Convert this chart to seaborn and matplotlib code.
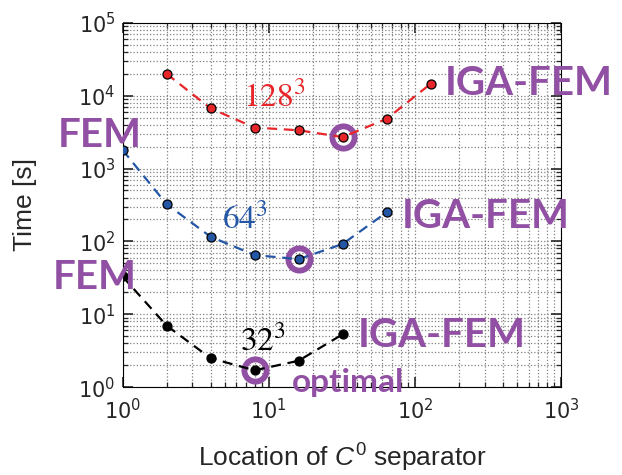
import numpy as np
import pandas as pd
import matplotlib
matplotlib.use("Agg")
import matplotlib.pyplot as plt
import seaborn as sns

# --- data ---
SEPARATOR = [1, 2, 4, 8, 16, 32, 64, 128]
TIME_128 = [np.nan, 20000, 6700, 3650, 3350, 2700, 4800, 14500]
TIME_64 = [1800, 325, 116, 65, 57, 92, 250, np.nan]
TIME_32 = [33, 7.0, 2.5, 1.7, 2.3, 5.3, np.nan, np.nan]

SERIES_NAMES = ["128^3", "64^3", "32^3"]
SERIES_COLORS = ["#e8262a", "#2456a6", "black"]
SERIES_LABEL_POS = [(6.67, 7020), (4.79, 153), (6.36, 3.22)]

OPTIMAL_X = [32, 16, 8]
OPTIMAL_Y = [2700, 57, 1.7]

PURPLE = "#9150a3"

sns.set_style("ticks", rc={
    "xtick.direction": "in", "ytick.direction": "in",
    "xtick.top": True, "ytick.right": True,
    "axes.edgecolor": "black", "axes.linewidth": 1.6,
})
plt.rcParams["font.family"] = ["Liberation Sans", "DejaVu Sans"]
plt.rcParams["mathtext.rm"] = "Liberation Sans"
plt.rcParams["mathtext.it"] = "Liberation Sans:italic"

rows = []
for name, vals in zip(SERIES_NAMES, [TIME_128, TIME_64, TIME_32]):
    for x, y in zip(SEPARATOR, vals):
        if not np.isnan(y):
            rows.append({"series": name, "separator": x, "time": y})
df = pd.DataFrame(rows)

fig = plt.figure(figsize=(6.22, 4.75), dpi=100)
ax = fig.add_axes([0.197, 0.185, 0.705, 0.767])

# optimal rings
opt = pd.DataFrame({"separator": OPTIMAL_X, "time": OPTIMAL_Y})
sns.lineplot(data=opt, x="separator", y="time", ax=ax, linestyle="", marker="o",
             markersize=16, markerfacecolor="none", markeredgecolor=PURPLE,
             markeredgewidth=4.2, zorder=2)

for name, color in zip(SERIES_NAMES, SERIES_COLORS):
    sub = df[df["series"] == name]
    sns.lineplot(data=sub, x="separator", y="time", ax=ax, color=color,
                 linestyle=(0, (4.5, 3)), linewidth=1.6, marker="o", markersize=6.5,
                 markerfacecolor=color, markeredgecolor="black",
                 markeredgewidth=0.9, zorder=3)

ax.set_xscale("log")
ax.set_yscale("log")
ax.set_xlim(1, 1000)
ax.set_ylim(1, 1e5)
ax.grid(True, which="both", linestyle=":", color="0.5", linewidth=0.9)
ax.tick_params(which="major", length=7, width=1.2, labelsize=15,
               labelfontfamily="DejaVu Sans")
ax.tick_params(which="minor", length=3.5, width=0.9)
ax.tick_params(axis="x", which="major", pad=8)
ax.tick_params(axis="y", which="major", pad=5)

ax.set_xlabel(r"Location of $C^0$ separator", fontsize=19, labelpad=13,
              math_fontfamily="custom")
ax.set_ylabel("Time [s]", fontsize=19, labelpad=30)

for name, color, (tx, ty) in zip(SERIES_NAMES, SERIES_COLORS, SERIES_LABEL_POS):
    ax.text(tx, ty, f"${name}$", color=color, fontsize=24, math_fontfamily="stix",
            ha="left", va="baseline", zorder=4)

label_kw = dict(color=PURPLE, fontsize=29, fontweight="bold", family="Lato",
                va="baseline", ha="left", zorder=5, clip_on=False)
ax.text(161, 10260, "IGA-FEM", **label_kw)
ax.text(81.8, 153, "IGA-FEM", **label_kw)
ax.text(40.9, 3.54, "IGA-FEM", **label_kw)
ax.text(0.36, 1980, "FEM", **label_kw)
ax.text(0.333, 22.2, "FEM", **label_kw)
ax.text(14.4, 0.854, "optimal", **{**label_kw, "fontsize": 24})

fig.savefig("out.png", dpi=100)
